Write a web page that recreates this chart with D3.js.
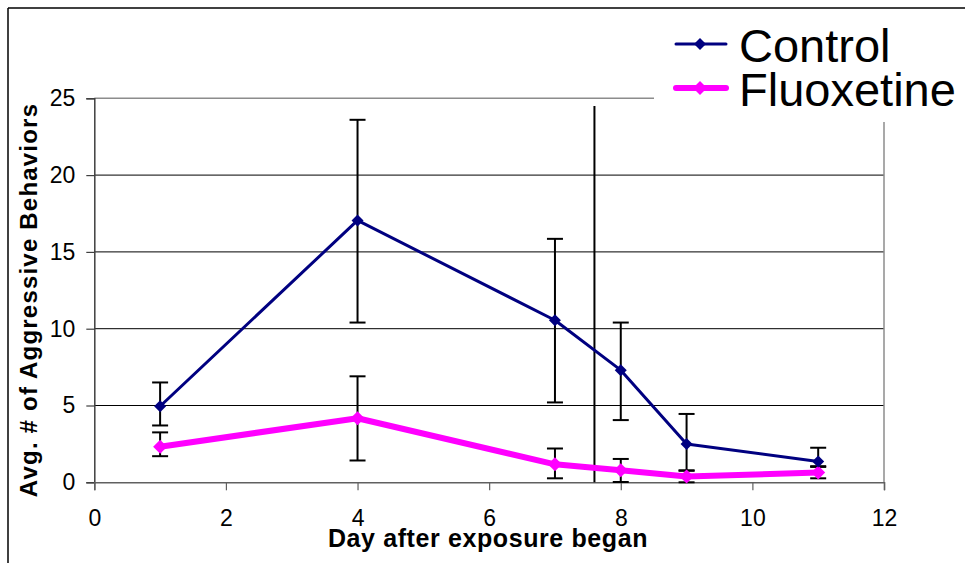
<!DOCTYPE html>
<html><head><meta charset="utf-8">
<script src="https://cdn.jsdelivr.net/npm/d3@7"></script>
<style>body{margin:0;background:#fff;}svg{display:block;font-family:"Liberation Sans",Arial,sans-serif;}</style>
</head><body><svg id="c" width="965" height="563"></svg>
<script>
const days = [1, 4, 7, 8, 9, 11];
const controlMean = [4.95, 17.05, 10.55, 7.3, 2.5, 1.35];
const controlUpper = [6.5, 23.6, 15.85, 10.4, 4.45, 2.25];
const controlLower = [3.7, 10.4, 5.2, 4.05, 0.75, 1.05];
const fluoxMean = [2.32, 4.17, 1.17, 0.78, 0.38, 0.63];
const fluoxUpper = [3.25, 6.9, 2.2, 1.52, 0.78, 1.0];
const fluoxLower = [1.7, 1.42, 0.26, 0.02, 0.0, 0.26];
const xTicks = [0, 2, 4, 6, 8, 10, 12];
const yTicks = [0, 5, 10, 15, 20, 25];
const seriesNames = ["Control", "Fluoxetine"];
const markerDay = 7.6;
const markerTop = 24.5;

const svg = d3.select("#c");
const x = d3.scaleLinear().domain([0, 12]).range([94.3, 884]);
const y = d3.scaleLinear().domain([0, 25]).range([482.3, 98.3]);
const FONT = "Liberation Sans, Arial, sans-serif";

// outer frame
svg.append("line").attr("x1", 8).attr("x2", 965).attr("y1", 8).attr("y2", 8).attr("stroke", "#000").attr("stroke-width", 1.5);
svg.append("line").attr("x1", 8).attr("x2", 8).attr("y1", 8).attr("y2", 563).attr("stroke", "#000").attr("stroke-width", 1.5);

// gridlines
svg.append("g").selectAll("line").data(yTicks.filter(d => d > 0 && d < 25)).join("line")
  .attr("x1", x(0)).attr("x2", x(12)).attr("y1", d => y(d)).attr("y2", d => y(d))
  .attr("stroke", "#000").attr("stroke-width", 1);
svg.append("line").attr("x1", x(0)).attr("x2", x(12)).attr("y1", y(25)).attr("y2", y(25)).attr("stroke", "#8c8c8c").attr("stroke-width", 1.5);
svg.append("line").attr("x1", x(12)).attr("x2", x(12)).attr("y1", y(25)).attr("y2", y(0)).attr("stroke", "#8c8c8c").attr("stroke-width", 1.5);

// axes
const yAxis = d3.axisLeft(y).tickValues(yTicks).tickSize(8).tickPadding(11);
const gy = svg.append("g").attr("transform", `translate(${x(0)},0)`).call(yAxis);
gy.attr("font-size", 23).attr("font-family", FONT);
gy.select(".domain").attr("stroke", "#404040").attr("stroke-width", 1.5);
gy.selectAll(".tick line").attr("stroke", "#404040").attr("stroke-width", 1.2);
gy.selectAll("text").attr("fill", "#000");

const xAxis = d3.axisBottom(x).tickValues(xTicks).tickSize(8).tickPadding(19);
const gx = svg.append("g").attr("transform", `translate(0,${y(0)})`).call(xAxis);
gx.attr("font-size", 23).attr("font-family", FONT);
gx.select(".domain").attr("stroke", "#606060").attr("stroke-width", 1.5);
gx.selectAll(".tick line").attr("stroke", "#606060").attr("stroke-width", 1.2);
gx.selectAll("text").attr("fill", "#000");

// vertical marker line
svg.append("line").attr("x1", x(markerDay)).attr("x2", x(markerDay)).attr("y1", y(markerTop)).attr("y2", y(0))
  .attr("stroke", "#000").attr("stroke-width", 2);

// axis titles
svg.append("text").attr("x", 488).attr("y", 547).attr("text-anchor", "middle")
  .attr("font-weight", "bold").attr("font-size", 25).attr("letter-spacing", 0.6).text("Day after exposure began");
svg.append("text").attr("transform", `translate(37,300) rotate(-90)`).attr("text-anchor", "middle")
  .attr("font-weight", "bold").attr("font-size", 24).attr("letter-spacing", 1.2).text("Avg. # of Aggressive Behaviors");

const series = [
  {name: seriesNames[0], mean: controlMean, up: controlUpper, lo: controlLower, color: "#000080", width: 3, size: 12},
  {name: seriesNames[1], mean: fluoxMean, up: fluoxUpper, lo: fluoxLower, color: "#ff00ff", width: 6, size: 14}
];

const diamond = (cx, cy, s) => `M${cx},${cy - s / 2}L${cx + s / 2},${cy}L${cx},${cy + s / 2}L${cx - s / 2},${cy}Z`;

// error bars
series.forEach(s => {
  const g = svg.append("g");
  days.forEach((d, i) => {
    g.append("line").attr("x1", x(d)).attr("x2", x(d)).attr("y1", y(s.up[i])).attr("y2", y(s.lo[i])).attr("stroke", "#000").attr("stroke-width", 2);
    [s.up[i], s.lo[i]].forEach(v => {
      g.append("line").attr("x1", x(d) - 8).attr("x2", x(d) + 8).attr("y1", y(v)).attr("y2", y(v)).attr("stroke", "#000").attr("stroke-width", 2);
    });
  });
});

// lines and markers
series.slice().reverse().forEach(s => {
  const line = d3.line().x((d, i) => x(days[i])).y(d => y(d));
  svg.append("path").datum(s.mean).attr("d", line).attr("fill", "none").attr("stroke", s.color).attr("stroke-width", s.width).attr("stroke-linejoin", "round");
  svg.append("g").selectAll("path").data(s.mean).join("path")
    .attr("d", (d, i) => diamond(x(days[i]), y(d), s.size)).attr("fill", s.color);
});

// legend
svg.append("rect").attr("x", 654).attr("y", 10).attr("width", 311).attr("height", 112).attr("fill", "#fff");
const legY = [44, 88];
series.forEach((s, i) => {
  svg.append("line").attr("x1", 676).attr("x2", 726).attr("y1", legY[i]).attr("y2", legY[i])
    .attr("stroke", s.color).attr("stroke-width", s.width).attr("stroke-linecap", "round");
  svg.append("path").attr("d", diamond(700, legY[i], s.size)).attr("fill", s.color);
  svg.append("text").attr("x", 739).attr("y", legY[i] + 18).attr("font-size", 47).attr("fill", "#000").text(s.name);
});
</script>
</body></html>
